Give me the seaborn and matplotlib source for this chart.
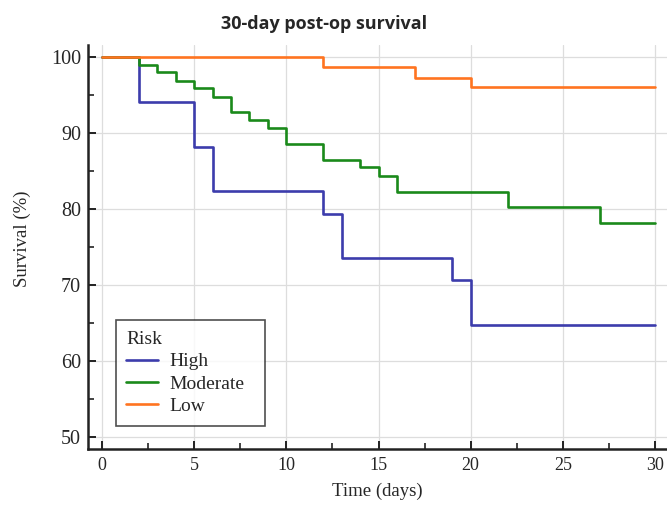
import numpy as np
import pandas as pd
import matplotlib
matplotlib.use("Agg")
import matplotlib.pyplot as plt
import seaborn as sns

# Data (Kaplan-Meier step values)
high_t = [0, 2, 5, 6, 12, 13, 19, 20, 30]
high_s = [100, 94.1, 88.2, 82.4, 79.4, 73.5, 70.6, 64.7, 64.7]
mod_t = [0, 2, 3, 4, 5, 6, 7, 8, 9, 10, 12, 14, 15, 16, 22, 27, 30]
mod_s = [100, 99.0, 98.0, 96.9, 95.9, 94.8, 92.7, 91.7, 90.6, 88.6, 86.5, 85.5, 84.4, 82.3, 80.2, 78.1, 78.1]
low_t = [0, 12, 17, 20, 30]
low_s = [100, 98.7, 97.3, 96.0, 96.0]
groups = ["High", "Moderate", "Low"]
colors = ["#3c3cac", "#1a8a1a", "#ff7420"]
x_ticks = [0, 5, 10, 15, 20, 25, 30]
y_ticks = [50, 60, 70, 80, 90, 100]

frames = []
for g, t, s in zip(groups, [high_t, mod_t, low_t], [high_s, mod_s, low_s]):
    frames.append(pd.DataFrame({"Time": t, "Survival": s, "Risk": g}))
df = pd.concat(frames, ignore_index=True)

sns.set_theme(style="white")
plt.rcParams["font.family"] = ["Liberation Serif", "DejaVu Serif"]

fig = plt.figure(figsize=(6.67, 5.07), dpi=100)
ax = fig.add_axes([88 / 667, 1 - 449 / 507, 1 - 88 / 667, (449 - 45) / 507])

sns.lineplot(data=df, x="Time", y="Survival", hue="Risk", hue_order=groups,
             palette=colors, drawstyle="steps-post", linewidth=1.9, ax=ax,
             estimator=None, sort=False)

ax.set_xlim(-0.76, 30.65)
ax.set_ylim(48.42, 101.58)
ax.set_xticks(x_ticks)
ax.set_yticks(y_ticks)
ax.set_xticks(np.arange(2.5, 30, 5), minor=True)
ax.set_yticks(np.arange(55, 100, 10), minor=True)
ax.grid(True, which="major", color="#dddddd", linewidth=0.9)
ax.set_axisbelow(True)
ax.tick_params(which="major", direction="in", length=6, width=1.4, color="#222222",
               pad=6, left=True, bottom=True)
ax.tick_params(axis="x", labelsize=13)
ax.tick_params(axis="y", labelsize=14.5, pad=5)
ax.tick_params(which="minor", direction="in", length=4, width=1.2, color="#222222",
               left=True, bottom=True)
for side in ["top", "right"]:
    ax.spines[side].set_visible(False)
for side in ["left", "bottom"]:
    ax.spines[side].set_color("#222222")
    ax.spines[side].set_linewidth(1.8)

ax.set_xlabel("Time (days)", fontsize=13.5, labelpad=6)
ax.set_ylabel("Survival (%)", fontsize=13.5)
ax.yaxis.set_label_coords(-0.098, 0.52)

leg = ax.legend(title="Risk", loc="lower left",
                bbox_to_anchor=(0.048, 0.057, 0.257, 0.26), mode="expand",
                borderaxespad=0, fontsize=14, title_fontsize=14, frameon=True,
                fancybox=False, handlelength=1.6, handletextpad=0.6,
                borderpad=0.55, labelspacing=0.25)
leg._legend_box.align = "left"
leg.get_frame().set_edgecolor("#222222")
leg.get_frame().set_linewidth(1.2)

fig.text(324 / 667, 1 - 24 / 507, "30-day post-op survival", ha="center", va="center",
         fontsize=13, fontweight="bold", family=["Open Sans", "DejaVu Sans"])

fig.savefig("out.png", dpi=100)
